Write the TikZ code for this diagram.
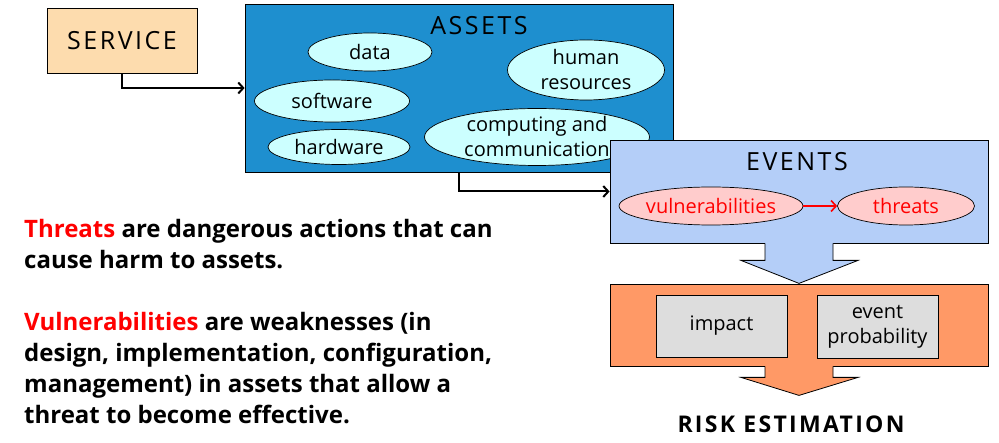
\documentclass[tikz,border=0pt]{standalone}
\usepackage{fontspec}
\setmainfont{Open Sans}
\usetikzlibrary{positioning,shapes,arrows.meta,calc}

\definecolor{servicefill}{HTML}{FDDCAE}
\definecolor{assetfill}{HTML}{1E8FCF}
\definecolor{itemfill}{HTML}{CCFFFF}
\definecolor{eventfill}{HTML}{B4CEF8}
\definecolor{hazardfill}{HTML}{FFCCCC}
\definecolor{riskfill}{HTML}{FF9966}
\definecolor{factorfill}{HTML}{DDDDDD}

\newcommand{\spaced}{\addfontfeatures{LetterSpace=10}}
% block arrow: #1 start, #2 shaft length, #3 tip length, #4 colour
\newcommand{\blockarrow}[4]{%
\fill[#4] ($(#1)+(-34,-1)$) -- ($(#1)+(-34,#2)$) -- ($(#1)+(-58,#2)$) -- ($(#1)+(0,#3)$)
  -- ($(#1)+(59,#2)$) -- ($(#1)+(34,#2)$) -- ($(#1)+(34,-1)$) -- cycle;
\draw[line width=0.8pt,line join=miter] ($(#1)+(-34,0)$) -- ($(#1)+(-34,#2)$) -- ($(#1)+(-58,#2)$)
  -- ($(#1)+(0,#3)$) -- ($(#1)+(59,#2)$) -- ($(#1)+(34,#2)$) -- ($(#1)+(34,0)$);}

\begin{document}
\begin{tikzpicture}[x=1pt,y=-1pt,
  box/.style={draw=black,line width=0.8pt,inner sep=0pt},
  title/.style={inner sep=0pt,font=\fontsize{25}{30}\selectfont\spaced},
  item/.style={ellipse,draw=black,line width=0.7pt,fill=itemfill,inner sep=0pt,align=center,
    font=\fontsize{20}{25}\selectfont},
  hazard/.style={item,fill=hazardfill,text=red},
  factor/.style={box,fill=factorfill,align=center,font=\fontsize{20}{25}\selectfont},
  link/.style={line width=2pt,-{Straight Barb[length=5pt,width=11pt]}}]
\useasboundingbox[fill=white] (0,0) rectangle (999,443);

\node[box,fill=servicefill,minimum width=150,minimum height=65,title] (service) at (122,40.5) {SERVICE};

% assets
\node[box,fill=assetfill,minimum width=428,minimum height=168] (assets) at (459,88) {};
\node[title] (assetstitle) at (479,26) {ASSETS};
\node[item,minimum width=124,minimum height=38] (data) at (370,52) {data};
\node[item,minimum width=155,minimum height=42] (software) at (332,101) {software};
\node[item,minimum width=142,minimum height=35] (hardware) at (339,147) {hardware};
\node[item,minimum width=157,minimum height=60,inner ysep=-4pt] (human) at (586,70) {human\\resources};
\node[item,minimum width=225,minimum height=57,inner ysep=-4pt] (computing) at (537,137) {computing and\\communication};

% events
\node[box,fill=eventfill,minimum width=378,minimum height=103] (events) at (799,191.5) {};
\node[title] (eventstitle) at (797,162) {EVENTS};
\node[hazard,minimum width=183,minimum height=38] (vuln) at (711,206) {vulnerabilities};
\node[hazard,minimum width=137,minimum height=38] (threats) at (906,206) {threats};
\draw[link,red,line width=1.6pt] (vuln) -- (threats);

% risk
\node[box,fill=riskfill,minimum width=378,minimum height=82] (risk) at (799,325) {};
\node[factor,minimum width=131,minimum height=62] (impact) at (721.5,326) {impact};
\node[factor,minimum width=121,minimum height=63] (prob) at (877.5,326.5) {event\\probability};
\node[font=\fontsize{23}{28}\selectfont\bfseries\spaced] (estimate) at (791,424) {RISK ESTIMATION};

\blockarrow{events.south}{17}{40}{eventfill}
\blockarrow{risk.south}{11}{29}{riskfill}

\draw[link] (service.south) |- (assets.west);
\draw[link] (assets.south) |- (events.west);

\node[anchor=north west,inner sep=0pt,align=left,font=\fontsize{24}{31}\selectfont\bfseries] (notes) at (24,219)
  {\textcolor{red}{Threats} are dangerous actions that can\\cause harm to assets.\\[31pt]
   \textcolor{red}{Vulnerabilities} are weaknesses (in\\design, implementation, configuration,\\
   management) in assets that allow a\\threat to become effective.};
\end{tikzpicture}
\end{document}
